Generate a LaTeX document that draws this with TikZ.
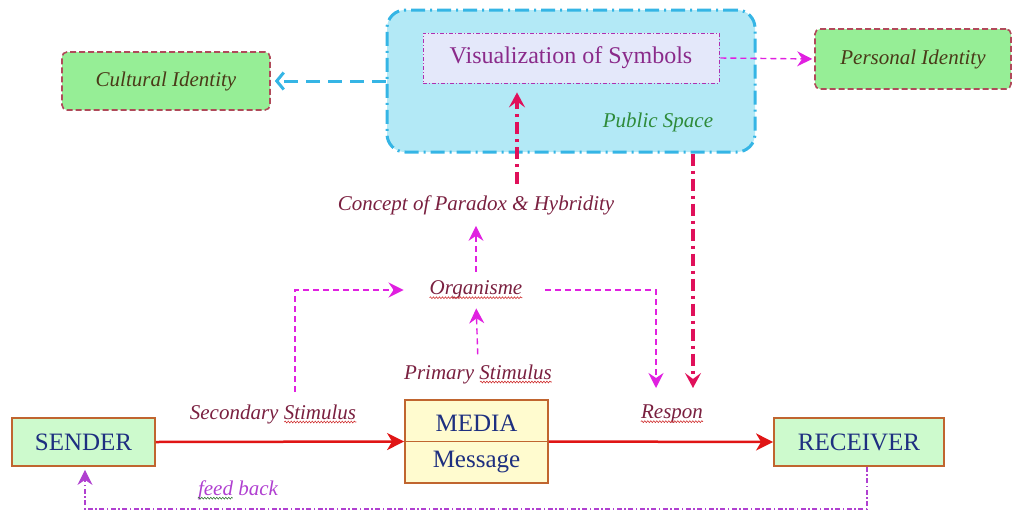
\documentclass[tikz,border=0pt]{standalone}
\usepackage{fontspec}
\setmainfont{Liberation Serif}
\usetikzlibrary{arrows.meta,calc,decorations.pathmorphing}
\definecolor{lblred}{HTML}{7A2040}
\definecolor{navy}{HTML}{1E2F80}
\definecolor{boxbrd}{HTML}{C0652F}
\definecolor{lgreen}{HTML}{CDFACD}
\definecolor{lyellow}{HTML}{FFFBCF}
\definecolor{idgreen}{HTML}{96EE96}
\definecolor{idbrd}{HTML}{B04A5A}
\definecolor{idtext}{HTML}{4A3A18}
\definecolor{cyanln}{HTML}{35B5E5}
\definecolor{cyanfill}{HTML}{B3E9F6}
\definecolor{visfill}{HTML}{E4E8FA}
\definecolor{visbrd}{HTML}{B030B0}
\definecolor{vistext}{HTML}{8A2A8A}
\definecolor{mag}{HTML}{E020E0}
\definecolor{crim}{HTML}{E0105A}
\definecolor{arrred}{HTML}{E01515}
\definecolor{pubgreen}{HTML}{2E8B3A}
\definecolor{feedmag}{HTML}{B040D0}
\definecolor{wavered}{HTML}{D03030}
\definecolor{wavegreen}{HTML}{3A7A3A}
\tikzset{
  lbl/.style={font=\fontsize{21}{25}\selectfont\itshape, text=lblred, inner sep=1pt},
  mainbox/.style={draw=boxbrd, line width=1.8pt, font=\fontsize{25}{30}\selectfont, text=navy, inner sep=0pt},
  idbox/.style={draw=idbrd, fill=idgreen, line width=1.6pt, dash pattern=on 6pt off 3pt, rounded corners=5pt,
    font=\fontsize{21}{25}\selectfont\itshape, text=idtext, inner sep=0pt},
  magarrow/.style={draw=mag, line width=1.4pt, dash pattern=on 6pt off 4pt, -{Stealth[length=15pt,width=15pt,inset=5pt]}},
  crimarrow/.style={draw=crim, line width=4pt, dash pattern=on 12pt off 5pt on 3pt off 5pt, -{Stealth[length=15pt,width=16pt,inset=6pt]}},
  redarrow/.style={draw=arrred, line width=2.5pt, -{Stealth[length=17pt,width=17pt,inset=5pt]}},
  cyanarrow/.style={draw=cyanln, line width=3pt, dash pattern=on 14pt off 8pt, -{Straight Barb[length=7pt,width=17pt]}},
  feedline/.style={draw=feedmag, line width=1.2pt, dash pattern=on 5pt off 2.5pt on 1.5pt off 2.5pt, -{Stealth[length=15pt,width=15pt,inset=5pt]}},
  wave/.style={draw=wavered, line width=0.6pt, decorate, decoration={snake, amplitude=0.9pt, segment length=3pt}}
}
\begin{document}
\begin{tikzpicture}[x=1pt,y=-1pt]
\useasboundingbox (0,0) rectangle (1013,512);
% public space
\node[draw=cyanln, fill=cyanfill, line width=3pt, dash pattern=on 14pt off 5pt on 2pt off 5pt,
  rounded corners=18pt, minimum width=368pt, minimum height=142pt] (pub) at (571,81) {};
\node[draw=visbrd, fill=visfill, line width=0.8pt, dash pattern=on 4pt off 2pt on 1pt off 2pt,
  minimum width=296pt, minimum height=50pt, font=\fontsize{24}{28}\selectfont, text=vistext] (vis) at (571,58) {Visualization of Symbols};
\node[font=\fontsize{21}{25}\selectfont\itshape, text=pubgreen] (pubsp) at (658,122) {Public Space};
% identities
\node[idbox, minimum width=208pt, minimum height=58pt] (cult) at (166,81) {Cultural Identity};
\node[idbox, minimum width=196pt, minimum height=60pt] (pers) at (913,59) {Personal Identity};
% labels
\node[lbl] (concept) at (476,205) {Concept of Paradox \& Hybridity};
\node[lbl] (org) at (476,290) {Organisme};
\node[lbl] (prim) at (478,374) {Primary Stimulus};
\node[lbl] (sec) at (273,414) {Secondary Stimulus};
\node[lbl] (respon) at (672,414) {Respon};
\node[lbl, text=feedmag] (feed) at (238,490) {feed back};
% spell-check wavy underlines
\draw[wave] ([xshift=1pt,yshift=-3pt]org.base west) -- ([xshift=-1pt,yshift=-3pt]org.base east);
\draw[wave] ([xshift=-73pt,yshift=-3pt]prim.base east) -- ([xshift=-1pt,yshift=-3pt]prim.base east);
\draw[wave] ([xshift=-73pt,yshift=-3pt]sec.base east) -- ([xshift=-1pt,yshift=-3pt]sec.base east);
\draw[wave] ([xshift=1pt,yshift=-3pt]respon.base west) -- ([xshift=-1pt,yshift=-3pt]respon.base east);
\draw[wave, draw=wavegreen] ([xshift=1pt,yshift=-3pt]feed.base west) -- ([xshift=36pt,yshift=-3pt]feed.base west);
% main boxes
\node[mainbox, fill=lgreen, minimum width=143pt, minimum height=48pt] (sender) at (83.5,442) {SENDER};
\node[mainbox, fill=lgreen, minimum width=170pt, minimum height=48pt] (receiver) at (859,442) {RECEIVER};
\node[mainbox, fill=lyellow, minimum width=143pt, minimum height=83pt] (media) at (476.5,441.5) {};
\draw[draw=boxbrd, line width=1.2pt] (media.west) -- (media.east);
\node[font=\fontsize{25}{30}\selectfont, text=navy] (mediat) at (476.5,423) {MEDIA};
\node[font=\fontsize{25}{30}\selectfont, text=navy] (msg) at (476.5,462) {Message};
% connectors
\draw[cyanarrow, shorten >=4pt] (pub.west) -- (cult.east);
\draw[magarrow, shorten <=1pt, shorten >=2pt] (vis.east) -- (pers.west);
\draw[crimarrow, shorten >=9pt] ([xshift=41pt,yshift=10pt]concept.north) -- ([xshift=-54pt]vis.south);
\coordinate (rin) at (693,388);
\draw[crimarrow] ([xshift=122pt]pub.south) -- (rin);
\draw[magarrow, shorten <=8pt, shorten >=10pt] (org.north) -- (concept.south);
\draw[magarrow, shorten <=9pt, shorten >=8pt] (prim.north) -- (org.north |- org.south);
\coordinate (sl) at (295,392);
\coordinate (sr) at (656,388);
\draw[magarrow, shorten >=25pt] (sl) |- (org.west);
\draw[magarrow, shorten <=22pt] (org.east) -| (sr);
\draw[redarrow] (sender.east) -- (media.west);
\draw[redarrow] (media.east) -- (receiver.west);
\coordinate (fbR) at (867,509);
\coordinate (fbL) at (85,509);
\draw[feedline, shorten >=3pt] ([xshift=8pt]receiver.south) -- (fbR) -- (fbL) -- ([xshift=1.5pt]sender.south);
\end{tikzpicture}
\end{document}
